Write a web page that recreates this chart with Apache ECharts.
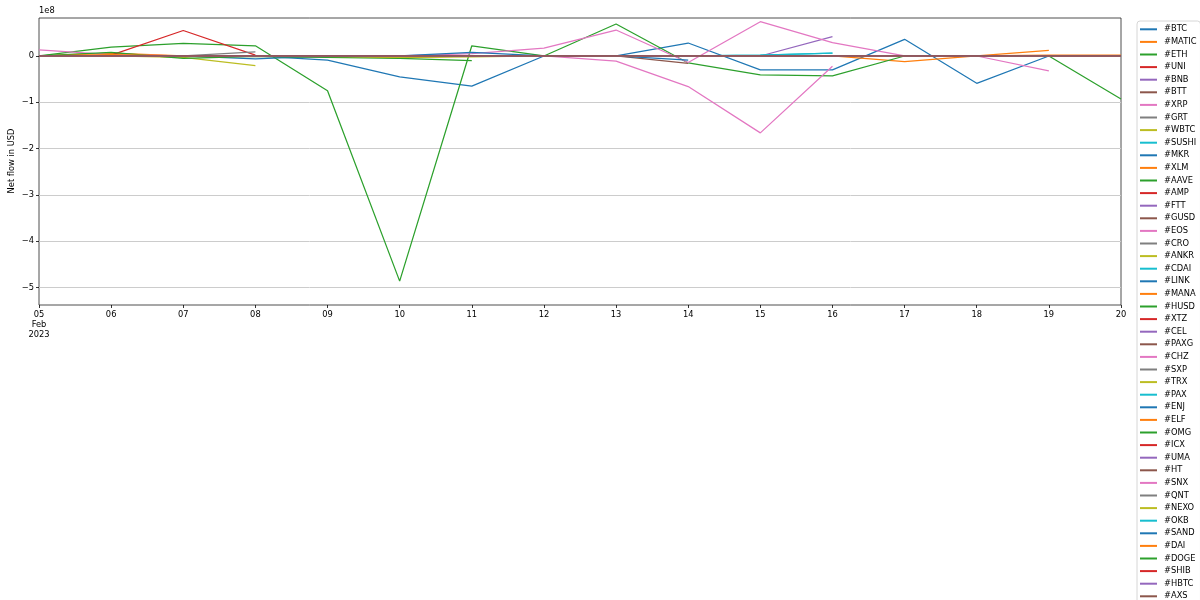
<!DOCTYPE html>
<html>
<head>
<meta charset="utf-8">
<script src="https://cdn.jsdelivr.net/npm/echarts@6/dist/echarts.min.js"></script>
<style>html,body{margin:0;padding:0;background:#fff}#c{width:1200px;height:600px}</style>
</head>
<body>
<div id="c"></div>
<script>
// Dates (x categories)
const dates = ['2023-02-05','2023-02-06','2023-02-07','2023-02-08','2023-02-09','2023-02-10','2023-02-11','2023-02-12',
               '2023-02-13','2023-02-14','2023-02-15','2023-02-16','2023-02-17','2023-02-18','2023-02-19','2023-02-20'];
// y tick values (units of 1e8 USD)
const yTicks = [-5, -4, -3, -2, -1, 0];
const coins = ['BTC','MATIC','ETH','UNI','BNB','BTT','XRP','GRT','WBTC','SUSHI','MKR','XLM','AAVE','AMP','FTT','GUSD',
               'EOS','CRO','ANKR','CDAI','LINK','MANA','HUSD','XTZ','CEL','PAXG','CHZ','SXP','TRX','PAX','ENJ','ELF',
               'OMG','ICX','UMA','HT','SNX','QNT','NEXO','OKB','SAND','DAI','DOGE','SHIB','HBTC','AXS'];
const n = null;
// Net flow values, in units of 1e8 USD
const BTC   = [0, 0, 0, 0, -0.09, -0.45, -0.65, 0, 0, 0.28, -0.30, -0.30, 0.36, -0.59, 0, 0];
const MATIC = [0, 0.06, 0, 0, 0, -0.04, 0, 0, 0, 0, 0, 0, -0.12, 0, 0.12, n];
const ETH   = [0, 0.19, 0.27, 0.22, -0.75, -4.86, 0.22, 0, 0.69, -0.15, -0.41, -0.43, 0, 0, 0, -0.93];
const UNI   = [n, 0.02, 0.55, 0.02, n, n, n, n, n, n, n, n, n, n, n, n];
const BNB   = [0, 0, 0, 0, 0, 0, 0, 0, 0, 0, 0, 0.42, n, n, n, n];
const BTT   = [0, 0, 0, 0, 0, 0, 0, 0, 0, -0.16, n, n, n, n, n, n];
const XRP   = [0.13, 0.03, 0, 0, -0.03, 0, 0.05, 0.17, 0.56, -0.14, 0.74, 0.29, 0, 0, -0.32, n];
const GRT   = [0, 0, 0, 0.09, n, n, n, n, n, n, n, n, n, n, n, n];
const WBTC  = [0, 0, -0.03, -0.21, n, n, n, n, n, n, n, n, n, n, n, n];
const SUSHI = [0, 0, 0, 0, 0, 0, 0, 0, 0, 0, 0.02, 0.06, n, n, n, n];
const MKR   = [0, 0, 0, -0.06, 0, 0, 0.08, 0, 0, n, n, n, n, n, n, n];
const XLM   = [0, 0, 0, 0, 0, 0, 0, 0, 0, 0, 0, 0, 0, 0, 0.02, 0.02];
const AAVE  = [0, 0.08, -0.05, -0.01, -0.03, -0.05, -0.10, n, n, n, n, n, n, n, n, n];
const AMP   = [0, 0, 0, 0, 0, 0, 0, 0, 0, 0, 0, 0, 0, 0, 0, 0];
const FTT   = [0, 0, 0, 0, 0, 0, 0, 0, 0, 0, 0, 0, 0, 0, 0, 0];
const GUSD  = [0, 0, 0, 0, 0, 0, 0, 0, 0, 0, 0, 0, 0, 0, 0, 0];
const EOS   = [0, 0, 0, 0, 0, 0, 0, 0, -0.11, -0.66, -1.66, -0.22, n, n, n, n];
const CRO   = [0, 0, 0, 0, 0, 0, 0, 0, 0, 0, 0, 0, 0, 0, 0, 0];
const ANKR  = [0, 0, 0, 0, -0.01, -0.03, -0.02, 0, 0, 0, 0, 0, 0, 0, 0, 0];
const CDAI  = [0, 0, 0, 0, 0, 0, 0, 0, 0, 0, 0.02, 0.06, n, n, n, n];
const LINK  = [0, 0, 0, 0, 0, 0, 0, 0, 0, -0.09, n, n, n, n, n, n];
const MANA  = [0, 0.03, 0, 0, 0, 0, 0, 0, 0, 0, 0, 0, 0, 0, 0, 0];
const HUSD  = [0, 0, 0, 0, 0, 0, 0, 0, 0, 0, 0, 0, 0, 0, 0, 0];
const XTZ   = [0, 0, 0, 0, 0, 0, 0, 0, 0, 0, 0, 0, 0, 0, 0, 0];
const CEL   = [0, 0, 0, 0, 0, 0, 0, 0, 0, 0, 0, 0, 0, 0, 0, 0];
const PAXG  = [0, 0, 0, 0, 0, 0, 0, 0, 0, 0, 0, 0, 0, 0, 0, 0];
const CHZ   = [0, 0, 0, 0, 0, 0, 0, 0, 0, 0, 0, 0, 0, 0, 0, 0];
const SXP   = [0, 0, 0, 0, 0, 0, 0, 0, 0, 0, 0, 0, 0, 0, 0, 0];
const TRX   = [0, 0, 0, 0, 0, 0, 0, 0, 0, 0, 0, 0, 0, 0, 0, 0];
const PAX   = [0, 0, 0, 0, 0, 0, 0, 0, 0, 0, 0, 0, 0, 0, 0, 0];
const ENJ   = [0, 0, 0, 0, 0, 0, 0, 0, 0, 0, 0, 0, 0, 0, 0, 0];
const ELF   = [0, 0, 0, 0, 0, 0, 0, 0, 0, 0, 0, 0, 0, 0, 0, 0];
const OMG   = [0, 0, 0, 0, 0, 0, 0, 0, 0, 0, 0, 0, 0, 0, 0, 0];
const ICX   = [0, 0, 0, 0, 0, 0, 0, 0, 0, 0, 0, 0, 0, 0, 0, 0];
const UMA   = [0, 0, 0, 0, 0, 0, 0, 0, 0, 0, 0, 0, 0, 0, 0, 0];
const HT    = [0, 0, 0, 0, 0, 0, 0, 0, 0, 0, 0, 0, 0, 0, 0, 0];
const SNX   = [0, 0, 0, 0, 0, 0, 0, 0, 0, 0, 0, 0, 0, 0, 0, 0];
const QNT   = [0, 0, 0, 0, 0, 0, 0, 0, 0, 0, 0, 0, 0, 0, 0, 0];
const NEXO  = [0, 0, 0, 0, 0, 0, 0, 0, 0, 0, 0, 0, 0, 0, 0, 0];
const OKB   = [0, 0, 0, 0, 0, 0, 0, 0, 0, 0, 0, 0, 0, 0, 0, 0];
const SAND  = [0, 0, 0, 0, 0, 0, 0, 0, 0, 0, 0, 0, 0, 0, 0, 0];
const DAI   = [0, 0, 0, 0, 0, 0, 0, 0, 0, 0, 0, 0, 0, 0, 0, 0];
const DOGE  = [0, 0, 0, 0, 0, 0, 0, 0, 0, 0, 0, 0, 0, 0, 0, 0];
const SHIB  = [0, 0, 0, 0, 0, 0, 0, 0, 0, 0, 0, 0, 0, 0, 0, 0];
const HBTC  = [0, 0, 0, 0, 0, 0, 0, 0, 0, 0, 0, 0, 0, 0, 0, 0];
const AXS   = [0, 0, 0, 0, 0, 0, 0, 0, 0, 0, 0, 0, 0, 0, 0, 0];

const seriesValues = [BTC, MATIC, ETH, UNI, BNB, BTT, XRP, GRT, WBTC, SUSHI, MKR, XLM, AAVE, AMP, FTT, GUSD,
  EOS, CRO, ANKR, CDAI, LINK, MANA, HUSD, XTZ, CEL, PAXG, CHZ, SXP, TRX, PAX, ENJ, ELF,
  OMG, ICX, UMA, HT, SNX, QNT, NEXO, OKB, SAND, DAI, DOGE, SHIB, HBTC, AXS];

const palette = ['#1f77b4','#ff7f0e','#2ca02c','#d62728','#9467bd','#8c564b','#e377c2','#7f7f7f','#bcbd22','#17becf'];
const FONT = 'DejaVu Sans';
const FS = 8.3;

const series = coins.map((c, i) => ({
  name: '#' + c,
  type: 'line',
  data: seriesValues[i],
  symbol: 'none',
  showSymbol: false,
  connectNulls: false,
  lineStyle: { width: 1.25, color: palette[i % 10] },
  itemStyle: { color: palette[i % 10] },
  emphasis: { disabled: true },
  z: 2
}));

const chart = echarts.init(document.getElementById('c'), null, { renderer: 'canvas' });
chart.setOption({
  animation: false,
  color: palette,
  textStyle: { fontFamily: FONT },
  grid: { left: 39, top: 18, width: 1082, height: 287, show: true, borderColor: '#222', borderWidth: 0.8, backgroundColor: 'transparent', containLabel: false },
  xAxis: {
    type: 'category',
    data: dates,
    boundaryGap: false,
    axisLine: { show: false, onZero: false },
    axisTick: { show: true, length: 3, inside: false, alignWithLabel: true, interval: 0, lineStyle: { color: '#000', width: 0.8 } },
    axisLabel: {
      interval: 0, margin: 5, color: '#000', fontSize: FS, fontFamily: FONT, lineHeight: 10,
      formatter: (v, i) => i === 0 ? v.slice(8) + '\nFeb\n2023' : v.slice(8)
    },
    splitLine: { show: false }
  },
  yAxis: {
    type: 'value',
    min: -5.375, max: 0.82,
    axisLine: { show: false, onZero: false },
    axisTick: { show: true, length: 3, customValues: yTicks, lineStyle: { color: '#000', width: 0.8 } },
    axisLabel: {
      customValues: yTicks, margin: 5, color: '#000', fontSize: FS, fontFamily: FONT,
      formatter: v => v === 0 ? '0' : '\u2212' + Math.abs(v)
    },
    splitLine: { show: true, lineStyle: { color: '#cccccc', width: 1 } }
  },
  legend: {
    orient: 'vertical',
    left: 1137, top: 21, height: 1200,
    padding: [2, 4, 2, 3],
    itemGap: 0,
    itemWidth: 17, itemHeight: 2,
    icon: 'rect',
    borderColor: '#d6d6d6', borderWidth: 1, borderRadius: 3,
    backgroundColor: '#fff',
    selectedMode: false,
    textStyle: { fontSize: FS, fontFamily: FONT, color: '#000', lineHeight: 12.6, padding: [0, 0, 0, 2] },
    data: coins.map(c => '#' + c)
  },
  graphic: [
    { type: 'text', left: 39, top: 7, style: { text: '1e8', font: FS + 'px "DejaVu Sans"', fill: '#000' } },
    { type: 'text', x: 12, y: 161, rotation: Math.PI / 2,
      style: { text: 'Net flow in USD', font: FS + 'px "DejaVu Sans"', fill: '#000', textAlign: 'center', textVerticalAlign: 'middle' } }
  ],
  series: series
});
</script>
</body>
</html>
